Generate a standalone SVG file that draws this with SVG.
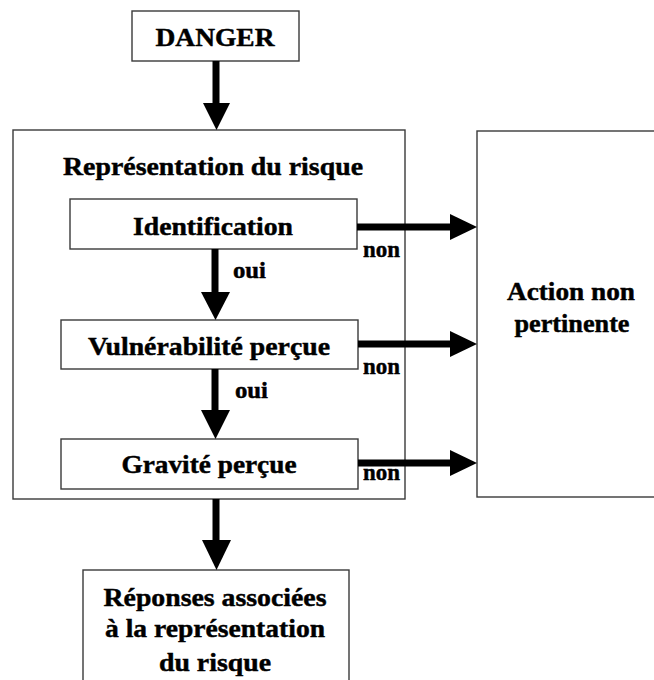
<svg xmlns="http://www.w3.org/2000/svg" width="654" height="680" viewBox="0 0 654 680">
<style>
.box{fill:#fff;stroke:#3a3a3a;stroke-width:1.4}
text{font-family:'Liberation Serif','Times New Roman',serif;font-weight:700;fill:#000;stroke:#000;stroke-width:0.45}
.t{font-size:26px;text-anchor:middle}
.s{font-size:23px}
.shaft{stroke:#000;stroke-width:7;fill:none}
.head{fill:#000}
</style>
<rect width="654" height="680" fill="#fff"/>
<g id="outer">
<rect class="box" x="13" y="130" width="392" height="369"/>
<text class="t" x="213" y="175" textLength="300" lengthAdjust="spacingAndGlyphs">Représentation du risque</text>
</g>
<g id="action">
<rect class="box" x="477" y="131" width="190" height="366"/>
<text class="t" x="571" y="300" textLength="128" lengthAdjust="spacingAndGlyphs">Action non</text>
<text class="t" x="572" y="332" textLength="115" lengthAdjust="spacingAndGlyphs">pertinente</text>
</g>
<g id="danger">
<rect class="box" x="132" y="11" width="167" height="50"/>
<text class="t" x="215" y="46" textLength="119" lengthAdjust="spacingAndGlyphs">DANGER</text>
</g>
<g id="identification">
<rect class="box" x="70" y="199" width="287" height="50"/>
<text class="t" x="213" y="235" textLength="160" lengthAdjust="spacingAndGlyphs">Identification</text>
</g>
<g id="vulnerabilite">
<rect class="box" x="61" y="320" width="297" height="49"/>
<text class="t" x="209" y="355" textLength="242" lengthAdjust="spacingAndGlyphs">Vulnérabilité perçue</text>
</g>
<g id="gravite">
<rect class="box" x="61" y="439" width="297" height="50"/>
<text class="t" x="209" y="473" textLength="175" lengthAdjust="spacingAndGlyphs">Gravité perçue</text>
</g>
<g id="reponses">
<rect class="box" x="83" y="570" width="266" height="120"/>
<text class="t" x="215" y="606" textLength="223" lengthAdjust="spacingAndGlyphs">Réponses associées</text>
<text class="t" x="215" y="637" textLength="220" lengthAdjust="spacingAndGlyphs">à la représentation</text>
<text class="t" x="215" y="671" textLength="112" lengthAdjust="spacingAndGlyphs">du risque</text>
</g>
<g id="connectors">
<line class="shaft" x1="216" y1="61" x2="216" y2="105"/>
<polygon class="head" points="203,103 230,103 216.5,130"/>
<line class="shaft" x1="215" y1="249" x2="215" y2="294"/>
<polygon class="head" points="201,292 230,292 215.5,320"/>
<text class="s" x="233" y="278" textLength="33" lengthAdjust="spacingAndGlyphs">oui</text>
<line class="shaft" x1="215" y1="369" x2="215" y2="412"/>
<polygon class="head" points="201,410 230,410 215.5,439"/>
<text class="s" x="235" y="398" textLength="33" lengthAdjust="spacingAndGlyphs">oui</text>
<line class="shaft" x1="216" y1="499" x2="216" y2="542"/>
<polygon class="head" points="202,540 231,540 216.5,570"/>
<line class="shaft" x1="357" y1="227" x2="452" y2="227"/>
<polygon class="head" points="450,214 450,240 477,227"/>
<text class="s" x="363" y="257" textLength="37" lengthAdjust="spacingAndGlyphs">non</text>
<line class="shaft" x1="358" y1="344" x2="452" y2="344"/>
<polygon class="head" points="450,331 450,357 477,344"/>
<text class="s" x="363" y="374" textLength="37" lengthAdjust="spacingAndGlyphs">non</text>
<line class="shaft" x1="358" y1="463" x2="452" y2="463"/>
<polygon class="head" points="450,450 450,476 477,463"/>
<text class="s" x="363" y="480" textLength="37" lengthAdjust="spacingAndGlyphs">non</text>
</g>
</svg>
